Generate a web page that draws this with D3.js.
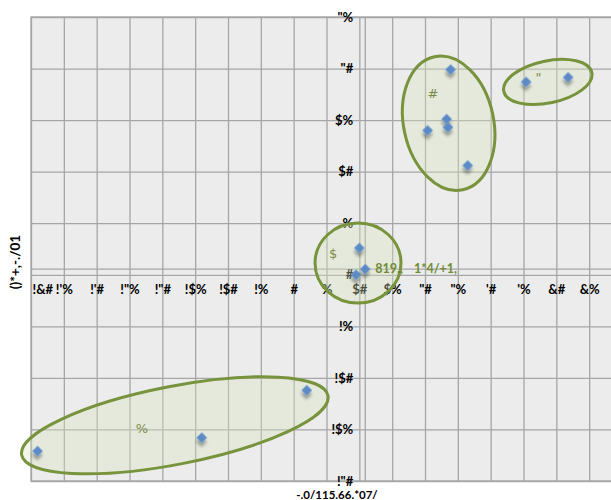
<!DOCTYPE html>
<html><head><meta charset="utf-8">
<script src="https://cdn.jsdelivr.net/npm/d3@7/dist/d3.min.js"></script>
<style>body{margin:0;background:#fff;overflow:hidden} svg{display:block}</style>
</head><body>
<svg id="c" width="611" height="500"></svg>
<script>
// ---- data ----
const xTicks = [-40,-35,-30,-25,-20,-15,-10,-5,0,5,10,15,20,25,30,35,40,45];
const xTickLabels = ["!&#","!'%","!'#","!\"%","!\"#","!$%","!$#","!%","#","%","$#","$%","\"#","\"%","'#","'%","&#","&%"];
const yTicks = [25,20,15,10,5,0,-5,-10,-15,-20];
const yTickLabels = ["\"%","\"#","$%","$#","%","#","!%","!$#","!$%","!\"#"];
const pointX = [-39,-14,2,10,9.5,23.9,23.3,23.5,20.4,26.5,35.4,41.8];
const pointY = [-17.1,-15.8,-11.2,2.6,0,19.9,15.1,14.3,14.0,10.6,18.7,19.15];
const centerPoint = [10.9,0.55];
const centerLabel = ["819.,","1*4/+1,"];
const clusterNames = ["%","$","#","\""];
const clusterX = [-18.1,9.8,23.6,38.7];
const clusterY = [-14.6,1.14,14.7,18.7];
const clusterLabelX = [-23.1,6,21.2,37.3];
const clusterLabelY = [-14.9,2.1,17.6,19.1];
const xTitle = "-.0/115.66.*07/";
const yTitle = "()*+,-./01";

// ---- layout ----
const svg = d3.select("#c");
const L = 31, T = 17, R = 622, B = 481;
const x = d3.scaleLinear().domain([-40,50]).range([L,R]);
const y = d3.scaleLinear().domain([-20,25]).range([B,T]);
const ellipseShapes = [
  {rx:156, ry:39, rot:-11},
  {rx:43, ry:40, rot:0},
  {rx:45, ry:68, rot:-12},
  {rx:45, ry:21, rot:-12}
];
const gridColor = "#a6a6a6";
const font = "Lato, 'Open Sans', sans-serif";

const defs = svg.append("defs");
const f = defs.append("filter").attr("id","sh").attr("x","-50%").attr("y","-50%").attr("width","250%").attr("height","250%");
f.append("feDropShadow").attr("dx",2.5).attr("dy",3).attr("stdDeviation",1.8).attr("flood-color","#000").attr("flood-opacity",0.35);

// plot background
svg.append("rect").attr("x",L).attr("y",T).attr("width",R-L).attr("height",B-T)
  .attr("fill","#ebeceb").attr("stroke",gridColor).attr("stroke-width",1.3);

// gridlines
const gridX = svg.append("g").attr("transform",`translate(0,${B})`)
  .call(d3.axisBottom(x).tickValues(d3.range(-40,55,5)).tickSize(-(B-T)).tickFormat(""));
const gridY = svg.append("g").attr("transform",`translate(${L},0)`)
  .call(d3.axisLeft(y).tickValues(yTicks).tickSize(-(R-L)).tickFormat(""));
[gridX,gridY].forEach(g=>{
  g.select(".domain").remove();
  g.selectAll("line").attr("stroke",gridColor).attr("stroke-width",1.3);
});

// crossing axis lines
svg.append("line").attr("x1",L).attr("x2",R).attr("y1",y(centerPoint[1])).attr("y2",y(centerPoint[1]))
  .attr("stroke",gridColor).attr("stroke-width",1.3);
svg.append("line").attr("x1",x(centerPoint[0])).attr("x2",x(centerPoint[0])).attr("y1",T).attr("y2",B)
  .attr("stroke",gridColor).attr("stroke-width",1.3);

// x tick labels
const xAxis = svg.append("g").attr("transform",`translate(0,${y(0)})`)
  .call(d3.axisBottom(x).tickValues(xTicks).tickSize(0).tickPadding(10.5)
    .tickFormat((d,i)=>xTickLabels[i]));
xAxis.select(".domain").remove();
xAxis.selectAll("text").attr("font-family",font).attr("font-weight","bold").attr("font-size",13).attr("fill","#000");
xAxis.selectAll("text").filter((d,i)=>i===0).attr("text-anchor","start").attr("x",1);

// y tick labels
const yAxis = svg.append("g").attr("transform",`translate(${x(centerPoint[0])},0)`)
  .call(d3.axisLeft(y).tickValues(yTicks).tickSize(0).tickPadding(12)
    .tickFormat((d,i)=>yTickLabels[i]));
yAxis.select(".domain").remove();
yAxis.selectAll("text").attr("font-family",font).attr("font-weight","bold").attr("font-size",13).attr("fill","#000");

// ellipses
svg.append("g").selectAll("ellipse").data(clusterX).join("ellipse")
  .attr("transform",(d,i)=>`translate(${x(clusterX[i])},${y(clusterY[i])}) rotate(${ellipseShapes[i].rot})`)
  .attr("rx",(d,i)=>ellipseShapes[i].rx).attr("ry",(d,i)=>ellipseShapes[i].ry)
  .attr("fill","#d7e4bd").attr("fill-opacity",0.35)
  .attr("stroke","#77933c").attr("stroke-width",3);

// cluster labels
svg.append("g").selectAll("text").data(clusterNames).join("text")
  .attr("x",(d,i)=>x(clusterLabelX[i])).attr("y",(d,i)=>y(clusterLabelY[i]))
  .attr("dy","0.35em").attr("text-anchor","middle")
  .attr("font-family","'DejaVu Sans', sans-serif").attr("font-size",13).attr("fill","#7b8b4a")
  .text(d=>d);

// points
const diamond = d3.symbol(d3.symbolSquare, 50);
const pts = pointX.map((v,i)=>[v,pointY[i]]).concat([centerPoint]);
svg.append("g").selectAll("path").data(pts).join("path")
  .attr("d",diamond)
  .attr("transform",d=>`translate(${x(d[0])},${y(d[1])}) rotate(45)`)
  .attr("fill","#5b8ac6").attr("stroke","#6d98cf").attr("stroke-width",0.5)
  .attr("filter","url(#sh)");

// center label
const cl = svg.append("text").attr("x",x(centerPoint[0])+10).attr("y",y(centerPoint[1]))
  .attr("dy","0.35em").attr("font-family",font).attr("font-weight","bold").attr("font-size",12.5).attr("fill","#6f8c35");
cl.append("tspan").text(centerLabel[0]);
cl.append("tspan").attr("dx",11).text(centerLabel[1]);

// axis titles
svg.append("text").attr("transform",`translate(20,262) rotate(-90)`).attr("text-anchor","middle")
  .attr("font-family",font).attr("font-weight","bold").attr("font-size",13.5).text(yTitle);
svg.append("text").attr("x",337).attr("y",498.5).attr("text-anchor","middle")
  .attr("font-family",font).attr("font-weight","bold").attr("font-size",11.5).text(xTitle);
</script>
</body></html>
